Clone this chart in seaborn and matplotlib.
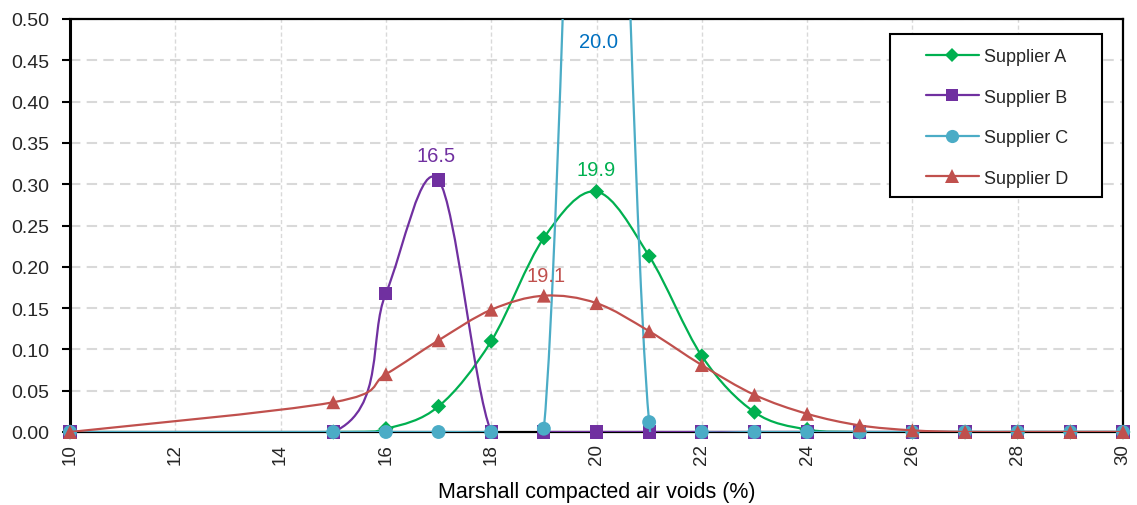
import numpy as np
import pandas as pd
import matplotlib
matplotlib.use("Agg")
import matplotlib.pyplot as plt
import seaborn as sns
from matplotlib.path import Path
from matplotlib.patches import PathPatch, Rectangle
from matplotlib.lines import Line2D

# ---- data ----
air_voids = [10, 15, 16, 17, 18, 19, 20, 21, 22, 23, 24, 25, 26, 27, 28, 29, 30]
supplier_a = [0, 0, 0.004, 0.031, 0.110, 0.235, 0.291, 0.213, 0.092, 0.024, 0.003, 0, 0, 0, 0, 0, 0]
supplier_b = [0, 0, 0.168, 0.305, 0, 0, 0, 0, 0, 0, 0, 0, 0, 0, 0, 0, 0]
supplier_c = [0, 0, 0, 0, 0, 0.004, 1.36, 0.012, 0, 0, 0, 0, 0, 0, 0, 0, 0]
supplier_d = [0, 0.036, 0.070, 0.111, 0.148, 0.165, 0.156, 0.122, 0.081, 0.045, 0.022, 0.008, 0.002, 0, 0, 0, 0]
series_names = ["Supplier A", "Supplier B", "Supplier C", "Supplier D"]
mean_labels = ["19.9", "16.5", "20.0", "19.1"]
x_ticks = list(range(10, 31, 2))
y_ticks = [0.00, 0.05, 0.10, 0.15, 0.20, 0.25, 0.30, 0.35, 0.40, 0.45, 0.50]

# ---- styles ----
colors = ["#00B050", "#7030A0", "#4BACC6", "#C0504D"]
markers = ["D", "s", "o", "^"]
msizes = [60, 90, 100, 100]
label_colors = ["#00B050", "#7030A0", "#0070C0", "#C0504D"]
label_pos = [(20.0, 0.318), (16.95, 0.335), (20.03, 0.473), (19.05, 0.189)]

sns.set_theme(style="white")
plt.rcParams["font.family"] = ["Liberation Sans", "DejaVu Sans"]

df = pd.DataFrame({"x": air_voids, "Supplier A": supplier_a, "Supplier B": supplier_b,
                   "Supplier C": supplier_c, "Supplier D": supplier_d})
long = df.melt(id_vars="x", var_name="series", value_name="y")

fig = plt.figure(figsize=(11.37, 5.06), dpi=100)
ax = fig.add_axes([70 / 1137, 1 - 433 / 506, 1053 / 1137, 413 / 506])


def smooth_path(xs, ys):
    P = np.column_stack([xs, ys]).astype(float)
    n = len(P)
    verts = [P[0]]
    codes = [Path.MOVETO]
    for i in range(n - 1):
        p0 = P[i - 1] if i > 0 else P[i]
        p1 = P[i]
        p2 = P[i + 1]
        p3 = P[i + 2] if i + 2 < n else P[i + 1]
        c1 = p1 + (p2 - p0) / 6.0
        c2 = p2 - (p3 - p1) / 6.0
        verts += [c1, c2, p2]
        codes += [Path.CURVE4] * 3
    return Path(verts, codes)


for i, name in enumerate(series_names):
    sub = long[long["series"] == name]
    patch = PathPatch(smooth_path(sub["x"].values, sub["y"].values), facecolor="none",
                      edgecolor=colors[i], lw=1.6, zorder=3 + i)
    ax.add_patch(patch)
    sns.scatterplot(data=sub, x="x", y="y", ax=ax, color=colors[i], marker=markers[i],
                    s=msizes[i], edgecolor="none", linewidth=0, zorder=3.5 + i,
                    legend=False, clip_on=False)

for i in range(4):
    ax.text(label_pos[i][0], label_pos[i][1], mean_labels[i], color=label_colors[i],
            fontsize=14.5, ha="center", va="center", zorder=10)

ax.set_xlim(10, 30)
ax.set_ylim(0, 0.5)
ax.set_xticks(x_ticks)
ax.set_xticklabels([str(t) for t in x_ticks], rotation=90, fontsize=13.5)
ax.set_yticks(y_ticks)
ax.set_yticklabels([f"{t:.2f}" for t in y_ticks], fontsize=14)
ax.tick_params(axis="y", direction="out", length=6, width=1.5, color="black", pad=9, left=True)
ax.tick_params(axis="x", length=0, pad=8)
ax.set_xlabel("Marshall compacted air voids (%)", fontsize=15.5, labelpad=12, color="black")
ax.set_ylabel("")

ax.yaxis.grid(True, color="#D9D9D9", linestyle=(0, (5, 3)), lw=1.5, zorder=0)
ax.xaxis.grid(True, color="#D9D9D9", linestyle=(0, (3, 2)), lw=1.0, zorder=0)
ax.set_axisbelow(True)

for side, lw in [("left", 2.2), ("top", 1.6), ("right", 1.6), ("bottom", 1.6)]:
    ax.spines[side].set_visible(True)
    ax.spines[side].set_color("black")
    ax.spines[side].set_linewidth(lw)

# legend box
box = Rectangle((0.779, 0.569), 0.201, 0.395, transform=ax.transAxes, facecolor="white",
                edgecolor="black", lw=1.5, zorder=20)
ax.add_patch(box)
handles = [Line2D([0], [0], color=colors[i], lw=1.6, marker=markers[i],
                  markersize=[7, 9, 9.5, 9.5][i], markeredgewidth=0) for i in range(4)]
leg = ax.legend(handles, series_names, loc="center", bbox_to_anchor=(0.8805, 0.762),
                frameon=False, fontsize=13, handlelength=2.9, handletextpad=0.3,
                labelspacing=1.3, borderpad=0.2)
leg.set_zorder(21)

fig.savefig("out.png", dpi=100)
